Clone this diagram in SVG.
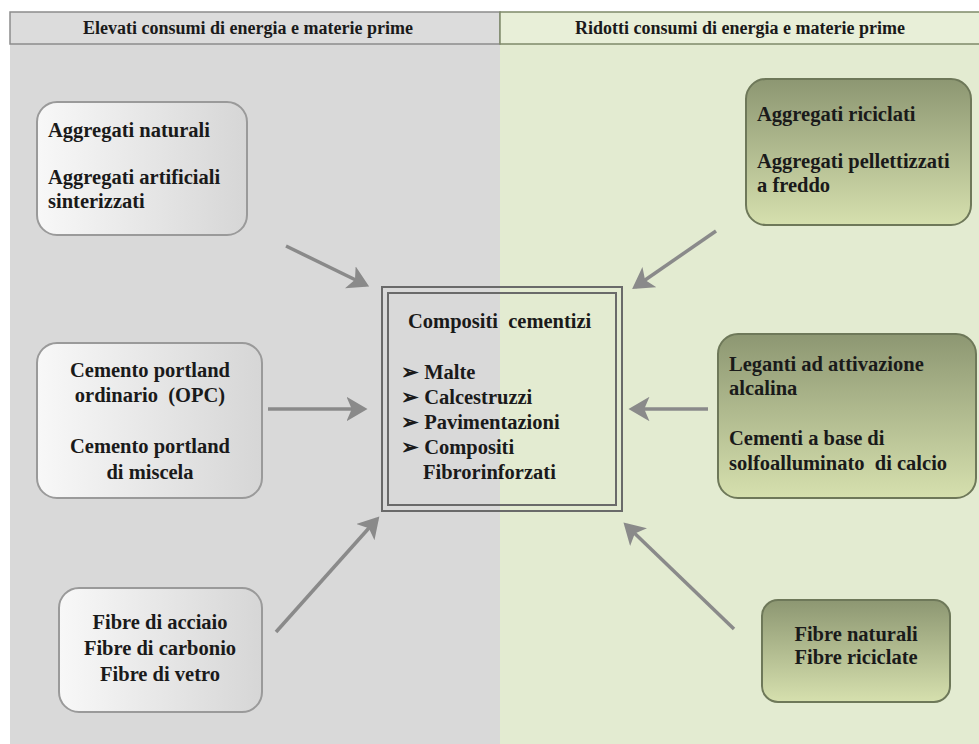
<svg xmlns="http://www.w3.org/2000/svg" width="979" height="744" viewBox="0 0 979 744">
<style>
text{white-space:pre}
.t{font-family:"Liberation Serif","Times New Roman",serif;font-weight:bold;font-size:20.5px;fill:#1a1a1a}
.h{font-family:"Liberation Serif","Times New Roman",serif;font-weight:bold;font-size:18px;fill:#1a1a1a}
.c{text-anchor:middle}
.lb{stroke:#9a9a9a;stroke-width:2;fill:url(#gl)}
.gb{stroke:#6e7859;stroke-width:2;fill:url(#gg)}
.ar{stroke:#8a8a8a;stroke-width:3.5;fill:none;marker-end:url(#ah)}
</style>
<defs>
<linearGradient id="gl" x1="0" y1="0" x2="1" y2="0">
<stop offset="0" stop-color="#f8f8f8"/>
<stop offset="1" stop-color="#d6d6d6"/>
</linearGradient>
<linearGradient id="gg" x1="0" y1="0" x2="0" y2="1">
<stop offset="0" stop-color="#8d9772"/>
<stop offset="1" stop-color="#d6e0ae"/>
</linearGradient>
<marker id="ah" markerWidth="7" markerHeight="7" refX="5" refY="3.5" orient="auto" markerUnits="strokeWidth">
<path d="M0,0 L6,3.5 L0,7 L1.5,3.5 Z" fill="#8a8a8a"/>
</marker>
</defs>
<rect width="979" height="744" fill="#ffffff"/>
<rect x="10" y="12" width="490" height="732" fill="#d9d9d9"/>
<rect x="500" y="12" width="479" height="732" fill="#e3ebd1"/>
<g id="header">
<rect x="10" y="12" width="490" height="32" fill="#dcdcdc" stroke="#8c8c8c" stroke-width="1.5"/>
<rect x="500" y="12" width="481" height="32" fill="#e8efd8" stroke="#7f8a6a" stroke-width="1.5"/>
<text class="h c" x="248" y="34">Elevati consumi di energia e materie prime</text>
<text class="h c" x="740" y="34">Ridotti consumi di energia e materie prime</text>
</g>
<g id="connectors">
<line class="ar" x1="286" y1="246" x2="366" y2="285"/>
<line class="ar" x1="268" y1="409" x2="364" y2="409"/>
<line class="ar" x1="276" y1="632" x2="377" y2="519"/>
<line class="ar" x1="716" y1="231" x2="635" y2="287"/>
<line class="ar" x1="708" y1="409" x2="632" y2="409"/>
<line class="ar" x1="734" y1="629" x2="626" y2="525"/>
</g>
<g id="n_aggregati_naturali">
<rect class="lb" x="37" y="102" width="210" height="133" rx="20"/>
<text class="t" x="48" y="137">Aggregati naturali</text>
<text class="t" x="48" y="184">Aggregati artificiali</text>
<text class="t" x="48" y="208">sinterizzati</text>
</g>
<g id="n_cemento">
<rect class="lb" x="37" y="343" width="225" height="155" rx="20"/>
<text class="t c" x="150" y="377">Cemento portland</text>
<text class="t c" x="150" y="402">ordinario  (OPC)</text>
<text class="t c" x="150" y="453">Cemento portland</text>
<text class="t c" x="150" y="479">di miscela</text>
</g>
<g id="n_fibre_left">
<rect class="lb" x="59" y="588" width="203" height="124" rx="20"/>
<text class="t c" x="160" y="629">Fibre di acciaio</text>
<text class="t c" x="160" y="655">Fibre di carbonio</text>
<text class="t c" x="160" y="681">Fibre di vetro</text>
</g>
<g id="n_compositi">
<rect x="382" y="287" width="240" height="224" fill="none" stroke="#6a6a6a" stroke-width="2"/>
<rect x="388" y="293" width="228" height="212" fill="none" stroke="#6a6a6a" stroke-width="2"/>
<text class="t" x="408" y="328">Compositi  cementizi</text>
<text class="t" x="401" y="379">➢ Malte</text>
<text class="t" x="401" y="404">➢ Calcestruzzi</text>
<text class="t" x="401" y="429">➢ Pavimentazioni</text>
<text class="t" x="401" y="454">➢ Compositi</text>
<text class="t" x="423" y="479">Fibrorinforzati</text>
</g>
<g id="n_aggregati_riciclati">
<rect class="gb" x="746" y="79" width="225" height="146" rx="20"/>
<text class="t" x="757" y="121">Aggregati riciclati</text>
<text class="t" x="757" y="168">Aggregati pellettizzati</text>
<text class="t" x="757" y="192">a freddo</text>
</g>
<g id="n_leganti">
<rect class="gb" x="718" y="334" width="258" height="164" rx="20"/>
<text class="t" x="729" y="371">Leganti ad attivazione</text>
<text class="t" x="729" y="395">alcalina</text>
<text class="t" x="729" y="445">Cementi a base di</text>
<text class="t" x="729" y="470">solfoalluminato  di calcio</text>
</g>
<g id="n_fibre_right">
<rect class="gb" x="762" y="600" width="188" height="102" rx="16"/>
<text class="t c" x="856" y="641">Fibre naturali</text>
<text class="t c" x="856" y="664">Fibre riciclate</text>
</g>
</svg>
